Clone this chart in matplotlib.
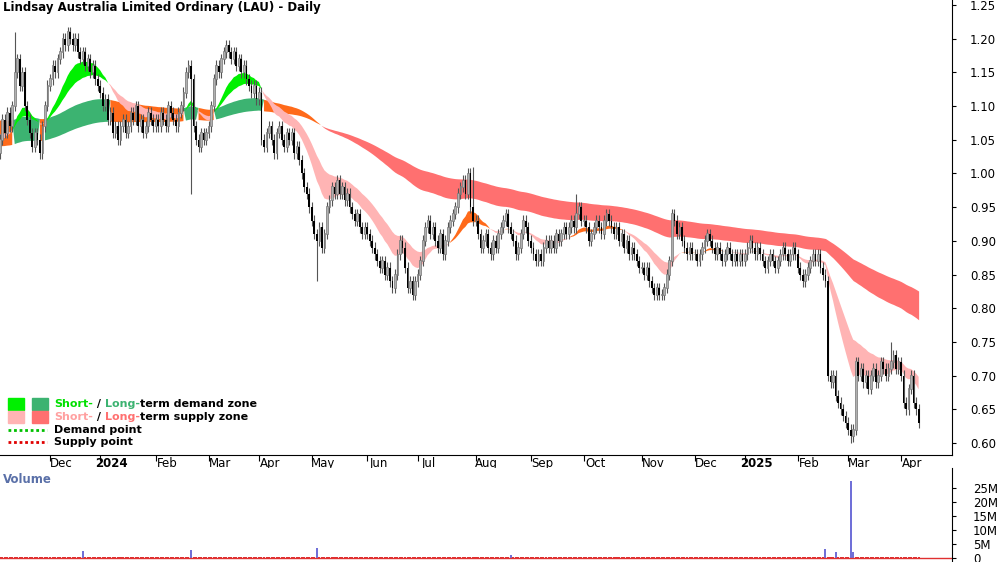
import matplotlib
matplotlib.use("Agg")
import matplotlib.pyplot as plt
import numpy as np
import pandas as pd

months = ["2023-11","2023-12","2024-01","2024-02","2024-03","2024-04","2024-05","2024-06","2024-07",
          "2024-08","2024-09","2024-10","2024-11","2024-12","2025-01","2025-02","2025-03","2025-04"]
closes_by_month = [
 [1.03,1.05,1.08,1.06,1.09,1.07,1.10,1.15,1.17,1.13,1.15,1.10,1.08,1.06,1.04,1.06,1.05,1.03,1.07,1.10,1.13],
 [1.14,1.16,1.15,1.17,1.18,1.20,1.19,1.21,1.20,1.19,1.20,1.18,1.17,1.18,1.16,1.17,1.15,1.16,1.14,1.13],
 [1.12,1.10,1.11,1.08,1.09,1.06,1.07,1.05,1.07,1.08,1.06,1.07,1.09,1.08,1.10,1.07,1.08,1.06,1.07,1.09,1.08,1.07],
 [1.08,1.07,1.09,1.08,1.07,1.10,1.09,1.08,1.07,1.09,1.10,1.12,1.15,1.16,1.14,1.07,1.05,1.04,1.06,1.05,1.06],
 [1.07,1.10,1.14,1.16,1.15,1.17,1.18,1.19,1.18,1.17,1.18,1.16,1.17,1.15,1.16,1.14,1.13,1.12,1.13,1.11],
 [1.12,1.05,1.04,1.06,1.07,1.05,1.03,1.06,1.07,1.05,1.04,1.06,1.05,1.06,1.03,1.04,1.02,1.00,0.98,0.97,0.95],
 [0.93,0.91,0.90,0.92,0.89,0.91,0.95,0.96,0.98,0.97,0.99,0.97,0.98,0.96,0.97,0.95,0.94,0.93,0.94,0.92,0.91,0.92],
 [0.91,0.90,0.89,0.88,0.87,0.86,0.87,0.85,0.86,0.84,0.83,0.85,0.88,0.90,0.89,0.86,0.83,0.84,0.82,0.84],
 [0.85,0.87,0.90,0.92,0.93,0.91,0.92,0.90,0.89,0.91,0.88,0.90,0.92,0.93,0.94,0.95,0.97,0.98,0.99,0.97,1.00,0.95,0.93],
 [0.93,0.91,0.89,0.90,0.91,0.89,0.88,0.90,0.89,0.91,0.92,0.93,0.94,0.92,0.91,0.90,0.88,0.89,0.91,0.93,0.92,0.90],
 [0.89,0.88,0.87,0.88,0.87,0.89,0.90,0.89,0.90,0.89,0.91,0.90,0.91,0.92,0.91,0.92,0.93,0.92,0.94,0.95,0.93],
 [0.93,0.92,0.90,0.91,0.92,0.93,0.92,0.91,0.93,0.94,0.93,0.92,0.91,0.92,0.90,0.91,0.89,0.90,0.88,0.89,0.88,0.87,0.86],
 [0.86,0.85,0.86,0.84,0.83,0.82,0.83,0.82,0.82,0.83,0.85,0.87,0.94,0.93,0.91,0.92,0.90,0.89,0.88,0.89,0.88],
 [0.88,0.87,0.88,0.89,0.90,0.91,0.90,0.89,0.88,0.89,0.88,0.87,0.88,0.89,0.88,0.87,0.88,0.87,0.88,0.87],
 [0.88,0.89,0.90,0.89,0.88,0.89,0.88,0.87,0.86,0.87,0.88,0.87,0.86,0.87,0.88,0.89,0.88,0.87,0.88,0.89,0.88],
 [0.86,0.85,0.84,0.85,0.86,0.87,0.88,0.87,0.88,0.86,0.85,0.84,0.70,0.69,0.70,0.67,0.66,0.65,0.64,0.63],
 [0.62,0.61,0.62,0.72,0.70,0.71,0.69,0.70,0.68,0.70,0.71,0.69,0.70,0.72,0.71,0.70,0.71,0.72,0.73,0.71,0.72],
 [0.70,0.66,0.65,0.68,0.70,0.66,0.65,0.63],
]
first_open = 1.02
wick_extremes = [("2023-11-13",1.21,None),("2024-02-21",None,0.97),("2024-05-03",None,0.84),
                 ("2024-07-31",1.01,None),("2024-09-26",0.97,None),("2025-02-18",0.81,None),
                 ("2025-03-26",0.75,None),("2025-03-04",None,0.60)]
vol_base = 0.35  # millions
vol_spikes = {"2023-12-20":2.5,"2024-02-21":2.8,"2024-05-03":3.5,"2024-08-21":1.0,
              "2025-02-18":3.2,"2025-02-24":2.2,"2025-03-04":27.5,"2025-03-05":2.0}
month_labels = ["Dec","2024","Feb","Mar","Apr","May","Jun","Jul","Aug","Sep","Oct","Nov","Dec","2025","Feb","Mar","Apr"]
ema_seeds = {"sf": 1.05, "ss": 1.06, "lf": 1.08, "ls": 1.04}

# ---- build series
dates = []
for i, (m, cl) in enumerate(zip(months, closes_by_month)):
    start = pd.Timestamp(m + "-01") if i else pd.Timestamp("2023-11-02")
    rng = pd.bdate_range(start, pd.Timestamp(m + "-01") + pd.offsets.MonthEnd(0))
    dates.extend(list(rng[:len(cl)]))
dates = pd.DatetimeIndex(dates)
close = np.array([v for cl in closes_by_month for v in cl])
opn = np.r_[first_open, close[:-1]]
high = np.maximum(opn, close) + 0.008
low = np.minimum(opn, close) - 0.008
for d, h, l in wick_extremes:
    k = dates.get_indexer([pd.Timestamp(d)], method="nearest")[0]
    if h: high[k] = max(high[k], h)
    if l: low[k] = min(low[k], l)
vol = np.full(len(close), vol_base)
for d, v in vol_spikes.items():
    vol[dates.get_indexer([pd.Timestamp(d)], method="nearest")[0]] = v
x = np.arange(len(close))

def ema(s, span, seed):
    a = 2 / (span + 1); out = np.empty(len(s)); e = seed
    for i, v in enumerate(s):
        e = a * v + (1 - a) * e; out[i] = e
    return out
sf, ss = ema(close, 16, ema_seeds["sf"]), ema(close, 30, ema_seeds["ss"])
lf, ls = ema(close, 105, ema_seeds["lf"]), ema(close, 170, ema_seeds["ls"])

# ---- figure
fig = plt.figure(figsize=(10, 5.62), dpi=100)
ax = fig.add_axes([0, 1 - 455/562, 0.952, 455/562])
axv = fig.add_axes([0, 0, 0.952, 94/562])

idx_dec = dates.get_indexer([pd.Timestamp("2023-12-01")], method="bfill")[0]
idx_apr = dates.get_indexer([pd.Timestamp("2025-04-01")], method="bfill")[0]
ppd = (901 - 50) / (idx_apr - idx_dec)
xl = (idx_dec - 50 / ppd, idx_dec + 902 / ppd)

lup, sup = lf > ls, sf > ss
C_LIME, C_SG, C_PINK, C_RED, C_OR = "#00f000", "#3cb371", "#ffb4b4", "#ff7070", "#ff6a1a"
ax.fill_between(x, lf, ls, where=lup & sup, color=C_SG, lw=0, interpolate=True, zorder=1)
ax.fill_between(x, lf, ls, where=lup & ~sup, color=C_OR, lw=0, interpolate=True, zorder=1)
ax.fill_between(x, lf, ls, where=~lup, color=C_RED, lw=0, interpolate=True, zorder=1)
ax.fill_between(x, sf, ss, where=sup & lup, color=C_LIME, lw=0, interpolate=True, zorder=2)
ax.fill_between(x, sf, ss, where=sup & ~lup, color=C_OR, lw=0, interpolate=True, zorder=2)
ax.fill_between(x, sf, ss, where=~sup, color=C_PINK, lw=0, interpolate=True, zorder=2)

up = close >= opn
ax.vlines(x, low, high, color="#555555", lw=0.8, zorder=3)
ax.bar(x[up], (close - opn)[up] + 0.001, bottom=opn[up], width=0.7, color="#b0b0b0", edgecolor="#777777", lw=0.5, zorder=4)
ax.bar(x[~up], (opn - close)[~up], bottom=close[~up], width=0.7, color="black", lw=0, zorder=4)

ymin = 0.60 - 12/674
ax.set_xlim(*xl)
ax.set_ylim(ymin, 1.25 + 5/674)
ax.yaxis.tick_right()
yt = np.round(np.arange(0.60, 1.2501, 0.05), 2)
ax.set_yticks(yt)
ax.set_yticklabels([f"{v:.2f}" for v in yt])
ax.tick_params(axis="y", labelsize=8.5, direction="out", length=3, pad=10)
mstarts = [dates.get_indexer([pd.Timestamp(m + "-01")], method="bfill")[0] for m in months[1:]]
ax.set_xticks(mstarts)
ax.set_xticklabels([])
ax.tick_params(axis="x", direction="out", length=4)
for ms, lab in zip(mstarts, month_labels):
    ax.text(ms + 4.5, ymin - 0.003, lab, ha="center", va="top", fontsize=8.5, clip_on=False,
            fontweight="bold" if lab in ("2024", "2025") else "normal")
for s in ("top", "left"): ax.spines[s].set_visible(False)
ax.text(0.003, 0.998, "Lindsay Australia Limited Ordinary (LAU) - Daily", transform=ax.transAxes,
        ha="left", va="top", fontsize=8.5, fontweight="bold")

# legend
C_LIME_T, C_PINK_T = "#00e000", "#ffa0a0"
for y, c1, c2, tc1, tail in ((404, C_LIME, C_SG, C_LIME_T, "term demand zone"),
                             (417, C_PINK, C_RED, C_PINK_T, "term supply zone")):
    fig.patches.append(plt.Rectangle((8/1000, 1 - (y + 6)/562), 16/1000, 12/562, color=c1, transform=fig.transFigure))
    fig.patches.append(plt.Rectangle((32/1000, 1 - (y + 6)/562), 16/1000, 12/562, color=c2, transform=fig.transFigure))
    fig.text(54/1000, 1 - y/562, "Short-", color=tc1, fontsize=8, fontweight="bold", va="center")
    for word, col in ((" / ", "black"), ("Long-", c2), (tail, "black")):
        fig.text(0, 0, word, color=col, fontsize=8, fontweight="bold", va="center")
fig.canvas.draw()
r = fig.canvas.get_renderer()
texts = list(fig.texts)
for i, t in enumerate(texts):
    if t.get_position() == (0, 0) and i > 0:
        p = texts[i - 1]
        bb = p.get_window_extent(r)
        t.set_position((bb.x1 / fig.bbox.width, p.get_position()[1]))
for y, c, t in ((430, "#00c000", "Demand point"), (442, "#e00000", "Supply point")):
    fig.lines.append(plt.Line2D([8/1000, 47/1000], [1 - y/562] * 2, color=c, ls=(0, (1, 1)), lw=2, transform=fig.transFigure))
    fig.text(54/1000, 1 - y/562, t, fontsize=8, fontweight="bold", va="center")

# volume
axv.bar(x, vol, width=0.8, color=np.where(vol > 0.9, "#7070d8", "#e03030"), lw=0)
axv.axhline(0.15, color="#e03030", lw=1.0)
axv.set_xlim(*xl)
axv.set_ylim(-1.4, 32.1)
axv.yaxis.tick_right()
axv.set_yticks([0, 5, 10, 15, 20, 25])
axv.set_yticklabels(["0", "5M", "10M", "15M", "20M", "25M"])
axv.tick_params(axis="y", labelsize=8.5, length=3, pad=12)
axv.set_xticks([])
for s in ("top", "left", "bottom"): axv.spines[s].set_visible(False)
axv.text(0.003, 0.95, "Volume", transform=axv.transAxes, ha="left", va="top", fontsize=8.5,
         fontweight="bold", color="#5a70a8")
fig.savefig("out.png", dpi=100)
